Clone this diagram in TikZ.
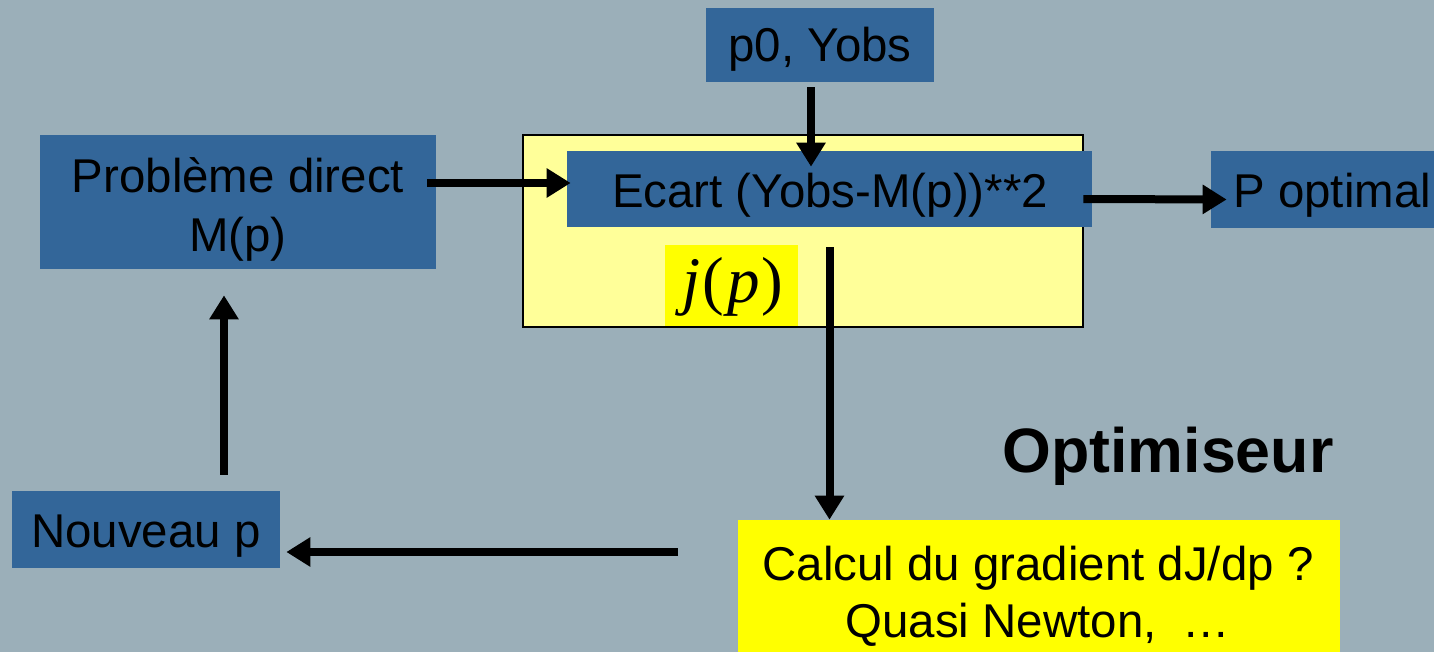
\documentclass[tikz,border=0pt]{standalone}
\usepackage{fontspec}
\setmainfont{Liberation Sans}
\newfontfamily\serifj{Liberation Serif}
\usetikzlibrary{arrows.meta,fit,calc}
\definecolor{bg}{RGB}{155,175,185}
\definecolor{boxblue}{RGB}{51,102,153}
\definecolor{paleyellow}{RGB}{255,255,153}
\definecolor{brightyellow}{RGB}{255,255,0}
\begin{document}
\begin{tikzpicture}[x=0.02cm,y=-0.02cm,
  bluebox/.style={fill=boxblue, draw=none, inner sep=0pt},
  yelbox/.style={fill=brightyellow, draw=none, inner sep=0pt},
  txt/.style={font=\fontsize{27}{32}\selectfont, text=black, inner sep=0pt, anchor=base},
  arr/.style={line width=0.16cm, -{Triangle[length=0.48cm,width=0.56cm]}},
]
\fill[bg] (0,0) rectangle (1434,652);
\useasboundingbox (0,0) rectangle (1434,652);

% boxes
\node[draw=black, line width=0.04cm, fill=paleyellow, inner sep=0pt, fit={(523,135)(1083,327)}] (opt) {};
\node[bluebox, fit={(706,8)(934,82)}] (p0) {};
\node[bluebox, fit={(40,135)(436,269)}] (prob) {};
\node[bluebox, fit={(567,151)(1092,227)}] (ecart) {};
\node[bluebox, fit={(1211,151)(1460,228)}] (popt) {};
\node[yelbox, fit={(665,245)(798,326)}] (jp) {};
\node[bluebox, fit={(12,491)(280,568)}] (nouv) {};
\node[yelbox, fit={(738,520)(1340,680)}] (calc) {};

% texts
\node[txt] (p0t) at (820,62) {p0, Yobs};
\node[txt] (probt1) at (238,193) {Problème direct};
\node[txt] (probt2) at (238,251) {M(p)};
\node[txt] (ecartt) at (830,207) {Ecart (Yobs-M(p))**2};
\node[txt, anchor=base west] (poptt) at (1233,207) {P optimal};
\node[txt] (nouvt) at (146,547) {Nouveau p};
\node[txt] (calct1) at (1038,580) {Calcul du gradient dJ/dp ?};
\node[txt] (calct2) at (1038,637) {Quasi Newton,\ \ …};
\node[txt, font=\fontsize{35.7}{40}\selectfont\bfseries] (optt) at (1168,472) {Optimiseur};
\node[txt, font=\serifj\fontsize{37}{42}\selectfont] (jpt) at (733,302) {\itshape j\kern1pt\upshape(\kern2pt\itshape p\kern1pt\upshape)};

% connectors
\draw[arr] ($(p0.south)+(-9,5)$) -- ($(ecart.north)+(-18.5,16)$);
\draw[arr] ($(prob.east)+(-9,-19)$) -- ($(ecart.west)+(4,-6)$);
\draw[arr] ($(ecart.east)+(-9,10)$) -- ($(popt.west)+(16,10)$);
\coordinate (dtop) at ($(ecart.south)+(0,20)$);
\draw[arr] (dtop) -- (dtop |- calc.north);
\coordinate (lstart) at (678,552);
\draw[arr] (lstart) -- ($(nouv.east)+(6,22.5)$);
\draw[arr] ($(nouv.north)+(78,-16)$) -- ($(prob.south)+(-14,26)$);
\end{tikzpicture}
\end{document}
